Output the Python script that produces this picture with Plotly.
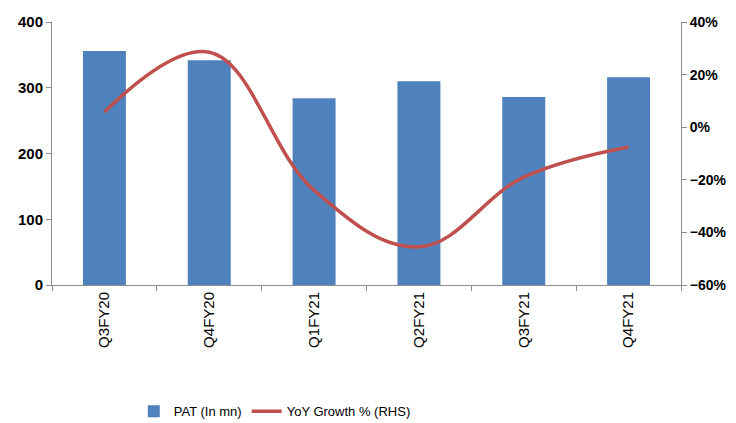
import plotly.graph_objects as go

categories = ["Q3FY20", "Q4FY20", "Q1FY21", "Q2FY21", "Q3FY21", "Q4FY21"]
pat = [356, 342, 284, 310, 286, 316]
yoy = [0.058, 0.285, -0.24, -0.455, -0.19, -0.075]

fig = go.Figure()
fig.add_trace(go.Bar(x=categories, y=pat, name="PAT (In mn)",
                     marker=dict(color="#4F81BD", line=dict(width=0)),
                     width=0.41))
fig.add_trace(go.Scatter(x=categories, y=yoy, name="YoY Growth % (RHS)", yaxis="y2",
                         mode="lines", line=dict(color="#C0504D", width=3.5, shape="spline", smoothing=1.1)))

axis_col = "#8C8C8C"
fig.update_layout(
    width=736, height=423,
    margin=dict(l=52, r=55, t=22, b=138, autoexpand=False),
    paper_bgcolor="white", plot_bgcolor="white",
    font=dict(family="Liberation Sans", color="black"),
    showlegend=True,
    legend=dict(orientation="h", x=0.13, xanchor="left", y=-0.48, yanchor="middle",
                font=dict(size=13), traceorder="normal"),
    xaxis=dict(showline=True, linecolor=axis_col, linewidth=1, ticks="outside", tickson="boundaries",
               ticklen=5, tickcolor=axis_col, tickangle=-90, tickfont=dict(size=15),
               showgrid=False, range=[-0.5, 5.5], automargin=False),
    yaxis=dict(range=[0, 400], dtick=100, showline=True, linecolor=axis_col, ticks="outside",
               ticklen=5, tickcolor=axis_col, showgrid=False, zeroline=False, automargin=False,
               tickfont=dict(size=15, weight="bold")),
    yaxis2=dict(range=[-0.6, 0.4], dtick=0.2, tickformat=".0%", overlaying="y", side="right",
                showline=True, linecolor=axis_col, ticks="outside", ticklen=5, tickcolor=axis_col,
                showgrid=False, zeroline=False, automargin=False,
                tickfont=dict(size=14, weight="bold")),
)

fig.write_html("out.html")
